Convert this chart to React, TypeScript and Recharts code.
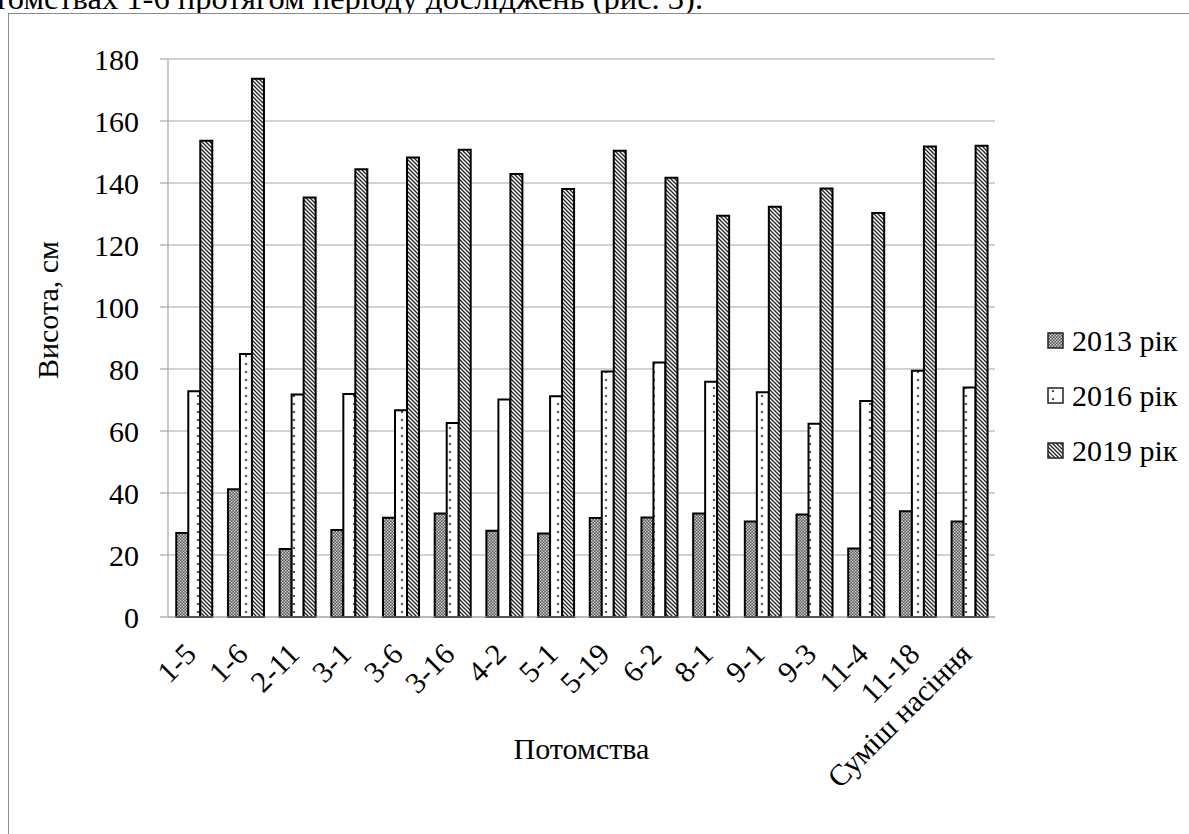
import React from 'react';
import { BarChart, Bar, XAxis, YAxis, CartesianGrid, Legend } from 'recharts';

const categories = ['1-5', '1-6', '2-11', '3-1', '3-6', '3-16', '4-2', '5-1', '5-19', '6-2', '8-1', '9-1', '9-3', '11-4', '11-18', 'Суміш насіння'];
const values2013 = [27.1, 41.2, 21.9, 28.1, 32.0, 33.4, 27.8, 26.9, 31.9, 32.1, 33.4, 30.8, 33.1, 22.1, 34.1, 30.8];
const values2016 = [72.8, 84.8, 71.8, 71.9, 66.7, 62.6, 70.2, 71.2, 79.2, 82.1, 75.9, 72.5, 62.3, 69.7, 79.4, 74.0];
const values2019 = [153.6, 173.6, 135.3, 144.4, 148.2, 150.7, 142.9, 138.1, 150.4, 141.7, 129.4, 132.3, 138.2, 130.3, 151.8, 152.0];
const seriesNames = ['2013 рік', '2016 рік', '2019 рік'];
const yTicks = [0, 20, 40, 60, 80, 100, 120, 140, 160, 180];
const xTitle = 'Потомства';
const yTitle = 'Висота, см';
const topText = 'томствах 1-6 протягом періоду досліджень (рис. 3).';

const data = categories.map((c, i) => ({
  name: c,
  s2013: values2013[i],
  s2016: values2016[i],
  s2019: values2019[i],
}));

const FONT = "'Liberation Serif', 'Times New Roman', serif";
const GRID = '#a6a6a6';
const patternIds = ['p2013', 'p2016', 'p2019'];

const PatternDefs = ({ suffix = '' }: { suffix?: string }) => (
  <defs>
    <pattern id={'p2013' + suffix} patternUnits="userSpaceOnUse" width="3" height="3">
      <rect x="0" y="0" width="3" height="3" fill="#5a5a5a" />
      <rect x="0" y="0" width="1.4" height="1.4" fill="#d8d8d8" />
      <rect x="1.5" y="1.5" width="1.4" height="1.4" fill="#d8d8d8" />
    </pattern>
    <pattern id={'p2016' + suffix} patternUnits="userSpaceOnUse" width="12" height="8">
      <rect x="0" y="0" width="12" height="8" fill="#ffffff" />
      <circle cx="6" cy="4" r="1.1" fill="#222" />
    </pattern>
    <pattern id={'p2019' + suffix} patternUnits="userSpaceOnUse" width="4" height="4">
      <rect x="0" y="0" width="4" height="4" fill="#ffffff" />
      <path d="M0,0 L4,4 M-1,3 L1,5 M3,-1 L5,1" stroke="#222" strokeWidth="1.3" />
    </pattern>
  </defs>
);

const XTick = (props: any) => {
  const { x, y, payload } = props;
  const ax = x + 4;
  const ay = y + 39;
  return (
    <text x={ax} y={ay} textAnchor="end" fontFamily={FONT} fontSize={30} fill="#000" transform={`rotate(-45, ${ax}, ${ay})`}>
      {payload.value}
    </text>
  );
};

const XTitle = (props: any) => {
  const vb = props.viewBox;
  return (
    <text x={vb.x + vb.width / 2} y={vb.y + 142} textAnchor="middle" fontFamily={FONT} fontSize={30} fill="#000">
      {xTitle}
    </text>
  );
};

const YTitle = (props: any) => {
  const vb = props.viewBox;
  const cx = vb.x + 58;
  const cy = vb.y + vb.height / 2 - 28;
  return (
    <text x={cx} y={cy} textAnchor="middle" fontFamily={FONT} fontSize={30} fill="#000" transform={`rotate(-90, ${cx}, ${cy})`}>
      {yTitle}
    </text>
  );
};

const LegendContent = () => (
  <div style={{ fontFamily: FONT, fontSize: 30, color: '#000' }}>
    {seriesNames.map((n, i) => (
      <div key={n} style={{ height: 55, display: 'flex', alignItems: 'center', whiteSpace: 'nowrap' }}>
        <svg width={17} height={17} style={{ marginRight: 8 }}>
          <PatternDefs suffix={'-lg' + i} />
          <rect x={1} y={1} width={15} height={15} fill={`url(#${patternIds[i]}-lg${i})`} stroke="#222" strokeWidth={1.5} />
        </svg>
        <span>{n}</span>
      </div>
    ))}
  </div>
);

export default function App() {
  return (
    <div style={{ position: 'absolute', left: 0, top: 0, width: 1189, height: 834, overflow: 'hidden', background: '#fff' }}>
      <div style={{ position: 'absolute', left: -6, top: -18, fontFamily: FONT, fontSize: 32.5, lineHeight: '32px', whiteSpace: 'nowrap', color: '#000' }}>
        {topText}
      </div>
      <div style={{ position: 'absolute', left: 8, top: 13, width: 1300, height: 900, borderLeft: '1px solid #8a8a8a', borderTop: '1px solid #8a8a8a', background: '#fff' }} />
      <div style={{ position: 'absolute', left: 0, top: 0 }}>
        <BarChart
          width={1189}
          height={834}
          data={data}
          margin={{ top: 59, right: 194, bottom: 0, left: 0 }}
          barCategoryGap="16%"
          barGap={0}
        >
          <PatternDefs />
          <CartesianGrid vertical={false} stroke={GRID} strokeWidth={1.2} />
          <XAxis
            dataKey="name"
            height={217}
            interval={0}
            tickLine={false}
            tickSize={0}
            tickMargin={0}
            axisLine={{ stroke: GRID, strokeWidth: 1.2 }}
            tick={<XTick />}
            label={<XTitle />}
          />
          <YAxis
            width={168}
            domain={[0, 180]}
            ticks={yTicks}
            interval={0}
            tickSize={8}
            tickMargin={21}
            tickLine={{ stroke: GRID, strokeWidth: 1.2 }}
            axisLine={{ stroke: GRID, strokeWidth: 1.2 }}
            tick={{ fontFamily: FONT, fontSize: 30, fill: '#000' }}
            label={<YTitle />}
          />
          <Legend
            layout="vertical"
            align="center"
            verticalAlign="middle"
            content={<LegendContent />}
            wrapperStyle={{ left: 1047, top: 313, width: 150, height: 170 }}
          />
          <Bar dataKey="s2013" name={seriesNames[0]} fill="url(#p2013)" stroke="#000" strokeWidth={2} isAnimationActive={false} />
          <Bar dataKey="s2016" name={seriesNames[1]} fill="url(#p2016)" stroke="#000" strokeWidth={2} isAnimationActive={false} />
          <Bar dataKey="s2019" name={seriesNames[2]} fill="url(#p2019)" stroke="#000" strokeWidth={2} isAnimationActive={false} />
        </BarChart>
      </div>
    </div>
  );
}
